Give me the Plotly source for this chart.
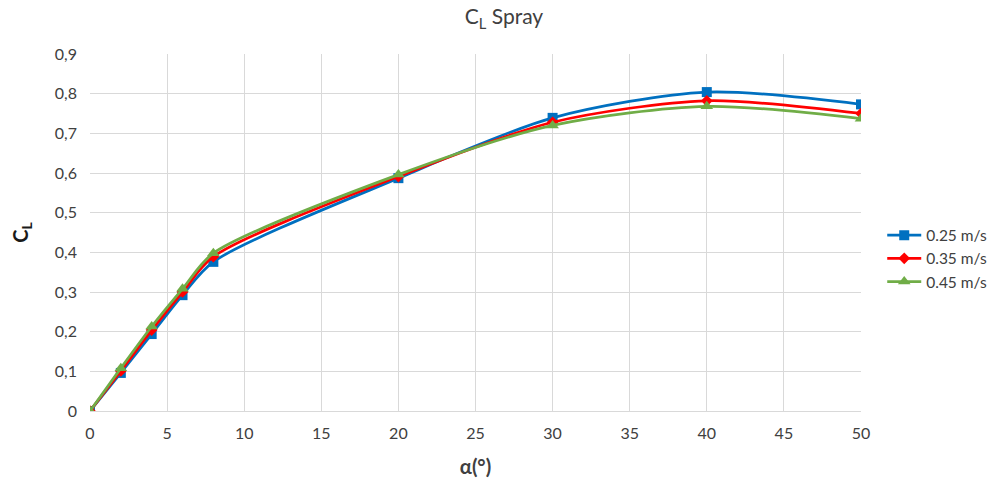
import plotly.graph_objects as go

# Angle of attack (degrees)
alpha = [0, 2, 4, 6, 8, 20, 30, 40, 50]

# Lift coefficient for each spray velocity
cl_025 = [0.0, 0.096, 0.194, 0.292, 0.376, 0.587, 0.739, 0.804, 0.773]
cl_035 = [0.0, 0.101, 0.204, 0.300, 0.389, 0.591, 0.728, 0.782, 0.750]
cl_045 = [0.0, 0.108, 0.213, 0.308, 0.398, 0.596, 0.720, 0.768, 0.737]

series_names = ["0.25 m/s", "0.35 m/s", "0.45 m/s"]
colors = ["#0070C0", "#FF0000", "#70AD47"]
symbols = ["square", "diamond", "triangle-up"]
marker_sizes = [10, 9, 11]

x_ticks = list(range(0, 55, 5))
y_ticks = [round(0.1 * i, 1) for i in range(10)]

FONT = "Lato, 'Open Sans', sans-serif"
TEXT = "#404040"

fig = go.Figure()
for name, vals, c, s, ms in zip(series_names, [cl_025, cl_035, cl_045], colors, symbols, marker_sizes):
    fig.add_trace(go.Scatter(
        x=alpha, y=vals, name=name, mode="lines+markers",
        line=dict(color=c, width=2.75, shape="spline", smoothing=0.8),
        marker=dict(symbol=s, size=ms, color=c),
    ))

fig.update_layout(
    width=998, height=488,
    margin=dict(l=90, r=137, t=54, b=77),
    paper_bgcolor="white", plot_bgcolor="white",
    separators=",.",
    font=dict(family=FONT, size=16, color=TEXT),
    title=dict(text="C<sub>L</sub> Spray", x=0.505, xref="container", xanchor="center",
               y=0.965, yanchor="middle",
               font=dict(family=FONT, size=21, color=TEXT)),
    xaxis=dict(range=[0, 50], tickvals=x_ticks, showgrid=True, gridcolor="#d9d9d9",
               gridwidth=1, zeroline=False, showline=True, linecolor="#d9d9d9",
               ticks="", ticklabelstandoff=8, tickfont=dict(size=16, color=TEXT),
               title=dict(text="<b>α(°)</b>", font=dict(size=20, color=TEXT), standoff=18)),
    yaxis=dict(range=[0, 0.9], tickvals=y_ticks, showgrid=True, gridcolor="#d9d9d9",
               gridwidth=1, zeroline=False, showline=False,
               ticks="", ticklabelstandoff=12, tickfont=dict(size=16, color=TEXT),
               title=dict(text="<b>C<sub>L</sub></b>", font=dict(size=20, color="#1a1a1a"), standoff=20)),
    legend=dict(xref="container", x=0.884, yref="container", y=0.47,
                xanchor="left", yanchor="middle",
                font=dict(size=15.5, color=TEXT), tracegroupgap=0,
                itemwidth=34, bgcolor="rgba(0,0,0,0)"),
)

fig.write_html("out.html")
